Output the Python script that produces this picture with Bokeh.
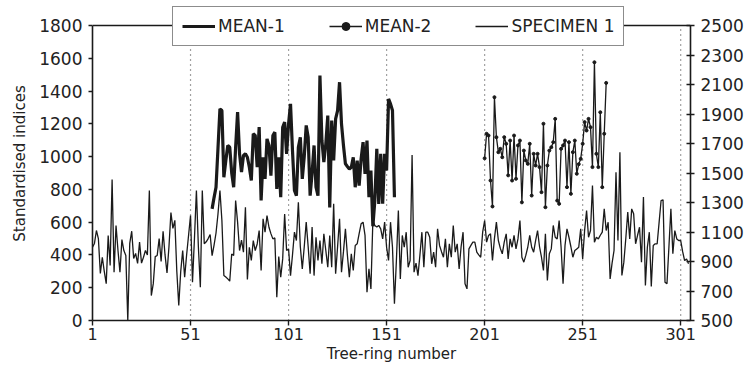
from bokeh.plotting import figure
from bokeh.models import (Range1d, LinearAxis, FixedTicker, Legend, LegendItem, Span)
from bokeh.embed import file_html
from bokeh.resources import INLINE

# ---------------- data ----------------
specimen_rings = list(range(1, 306))
specimen = [
    447, 470, 549, 500, 287, 386, 300, 225, 518, 336,
    860, 295, 580, 427, 295, 494, 427, 397, 0, 470,
    545, 378, 409, 348, 478, 350, 386, 427, 400, 793,
    152, 225, 390, 397, 500, 360, 545, 400, 290, 450,
    659, 562, 611, 300, 92, 300, 427, 264, 400, 520,
    640, 234, 500, 793, 450, 203, 793, 468, 480, 500,
    525, 396, 460, 534, 650, 793, 610, 275, 265, 254,
    240, 406, 396, 732, 600, 427, 491, 417, 691, 250,
    447, 366, 488, 427, 467, 549, 305, 620, 539, 640,
    569, 530, 498, 504, 142, 390, 264, 376, 650, 427,
    437, 274, 400, 539, 488, 722, 450, 315, 450, 600,
    450, 285, 570, 274, 508, 366, 488, 346, 529, 427,
    325, 519, 325, 712, 285, 450, 620, 295, 420, 559,
    400, 264, 407, 305, 458, 468, 530, 590, 600, 519,
    173, 315, 193, 610, 580, 570, 580, 559, 498, 600,
    447, 366, 600, 447, 102, 366, 671, 254, 519, 447,
    539, 325, 366, 1010, 295, 350, 274, 400, 539, 325,
    539, 539, 508, 346, 417, 325, 559, 458, 420, 386,
    498, 325, 468, 386, 580, 417, 468, 315, 450, 539,
    224, 193, 437, 458, 478, 478, 417, 400, 386, 539,
    610, 478, 519, 529, 366, 500, 600, 488, 440, 407,
    478, 529, 376, 498, 447, 519, 437, 498, 610, 386,
    356, 397, 447, 519, 447, 417, 488, 549, 450, 386,
    305, 529, 244, 407, 437, 580, 508, 498, 610, 447,
    224, 458, 559, 508, 450, 386, 427, 437, 447, 559,
    376, 550, 671, 508, 549, 823, 478, 508, 498, 520,
    539, 681, 549, 600, 254, 350, 427, 905, 488, 1027,
    275, 356, 500, 661, 498, 681, 651, 468, 520, 569,
    356, 753, 214, 447, 539, 208, 458, 468, 468, 600,
    732, 736, 234, 224, 450, 681, 407, 549, 498, 488,
    488, 420, 366, 376, 346,
]

mean1_rings = list(range(62, 156))
mean1 = [
    681, 750, 813, 1050, 1291, 1281, 874, 976, 1068, 1057,
    900, 813, 1057, 1271, 1017, 905, 1007, 1017, 996, 935,
    854, 1139, 1129, 935, 1180, 732, 996, 864, 1108, 1068,
    884, 1129, 1149, 803, 996, 752, 1179, 1210, 1017, 1200,
    1322, 1037, 793, 762, 1057, 1118, 864, 1000, 1190, 1118,
    762, 900, 1068, 813, 762, 1495, 1100, 966, 1078, 1250,
    690, 1220, 976, 1230, 1281, 1454, 1200, 1068, 956, 940,
    925, 935, 996, 813, 976, 823, 986, 1088, 894, 1098,
    752, 915, 575, 732, 1047, 711, 1017, 712, 1017, 915,
    1352, 1322, 1281, 752,
]

mean2_rings = list(range(201, 264))
mean2 = [
    1600, 1766, 1754, 1449, 1273, 2014, 1743, 1641, 1664, 1607,
    1743, 1698, 1484, 1720, 1449, 1754, 1461, 1687, 1720, 1301,
    1652, 1585, 1562, 1698, 1347, 1630, 1551, 1630, 1540, 1370,
    1834, 1268, 1551, 1652, 1675, 1709, 1867, 1313, 1291, 1664,
    1687, 1720, 1404, 1709, 1359, 1641, 1720, 1495, 1560, 1596,
    1698, 1845, 1788, 1867, 1811, 1540, 2251, 1630, 1540, 1912,
    1404, 1766, 2111,
]

x_ticks = [1, 51, 101, 151, 201, 251, 301]
grid_ticks = [51, 101, 151, 201, 251, 301]
left_ticks = list(range(0, 1801, 200))
right_ticks = list(range(500, 2501, 200))
left_min, left_max = 0, 1800
right_min, right_max = 500, 2500

# ---------------- figure ----------------
FONT = "DejaVu Sans"
INK = "#1a1a1a"

# frame spans from just above the legend top (6px) to the x axis (320px);
# the value range is extended above 1800 so that 1800 sits 19px below the frame top
TOP_PAD = 19.0
FRAME_H = 314.0
left_end = left_max + (left_max - left_min) * TOP_PAD / (FRAME_H - TOP_PAD)
right_end = right_max + (right_max - right_min) * TOP_PAD / (FRAME_H - TOP_PAD)

p = figure(width=749, height=374, output_backend="svg", toolbar_location=None,
           x_range=Range1d(1, 306), y_range=Range1d(left_min, left_end),
           min_border_left=92, min_border_right=59, min_border_top=6,
           min_border_bottom=54, outline_line_color=None,
           background_fill_color="white", border_fill_color="white")
p.extra_y_ranges = {"right": Range1d(right_min, right_end)}

# grid: dotted verticals limited to the value box
p.xgrid.visible = False
p.ygrid.visible = False
p.segment(x0=grid_ticks, y0=[left_min] * len(grid_ticks),
          x1=grid_ticks, y1=[left_max] * len(grid_ticks),
          line_color="#444444", line_dash="1 4", line_width=1.2)

def style_axis(ax, size="17px"):
    ax.axis_line_color = INK
    ax.axis_line_width = 1.6
    ax.major_tick_line_color = INK
    ax.major_tick_line_width = 1.4
    ax.minor_tick_line_color = None
    ax.major_label_text_font = FONT
    ax.major_label_text_font_size = size
    ax.major_label_text_color = "#222222"
    ax.axis_label_text_font = FONT
    ax.axis_label_text_font_size = "15px"
    ax.axis_label_text_font_style = "normal"
    ax.axis_label_text_color = "#222222"

# bottom axis
xa = p.xaxis[0]
xa.ticker = FixedTicker(ticks=x_ticks)
xa.axis_label = "Tree-ring number"
style_axis(xa, "16px")
xa.major_tick_in = 0
xa.major_tick_out = 5
xa.major_label_standoff = 2
xa.axis_label_standoff = 2

# left axis
ya = p.yaxis[0]
ya.ticker = FixedTicker(ticks=left_ticks)
ya.bounds = (left_min, left_max)
ya.axis_label = "Standardised indices"
style_axis(ya)
ya.major_tick_in = 0
ya.major_tick_out = 4
ya.major_label_standoff = 6
ya.axis_label_standoff = 7

# right axis
ra = LinearAxis(y_range_name="right", ticker=FixedTicker(ticks=right_ticks),
                bounds=(right_min, right_max))
style_axis(ra)
ra.major_tick_in = 4
ra.major_tick_out = 4
ra.major_label_standoff = 6
p.add_layout(ra, "right")

# top frame line at the top of the value box
p.add_layout(Span(location=left_max, dimension="width", line_color=INK,
                  line_width=1.6, level="underlay"))

# series
r_spec = p.line(specimen_rings, specimen, line_color=INK, line_width=1.3)
r_m1 = p.line(mean1_rings, mean1, line_color=INK, line_width=3.2)
r_m2 = p.line(mean2_rings, mean2, line_color=INK, line_width=1.3, y_range_name="right")
r_m2p = p.scatter(mean2_rings, mean2, size=3, color=INK, y_range_name="right")

legend = Legend(items=[
    LegendItem(label="MEAN-1", renderers=[r_m1]),
    LegendItem(label="MEAN-2", renderers=[r_m2, r_m2p]),
    LegendItem(label="SPECIMEN 1", renderers=[r_spec]),
], orientation="horizontal", location=(80, 274))
legend.label_text_font = FONT
legend.label_text_font_size = "17px"
legend.label_text_color = "#222222"
legend.glyph_width = 33
legend.glyph_height = 20
legend.label_standoff = 3
legend.spacing = 44
legend.padding = 9
legend.margin = 0
legend.border_line_color = INK
legend.border_line_width = 1.4
legend.background_fill_color = "white"
legend.background_fill_alpha = 1.0
p.add_layout(legend, "center")

open("out.html", "w").write(file_html(p, INLINE))
